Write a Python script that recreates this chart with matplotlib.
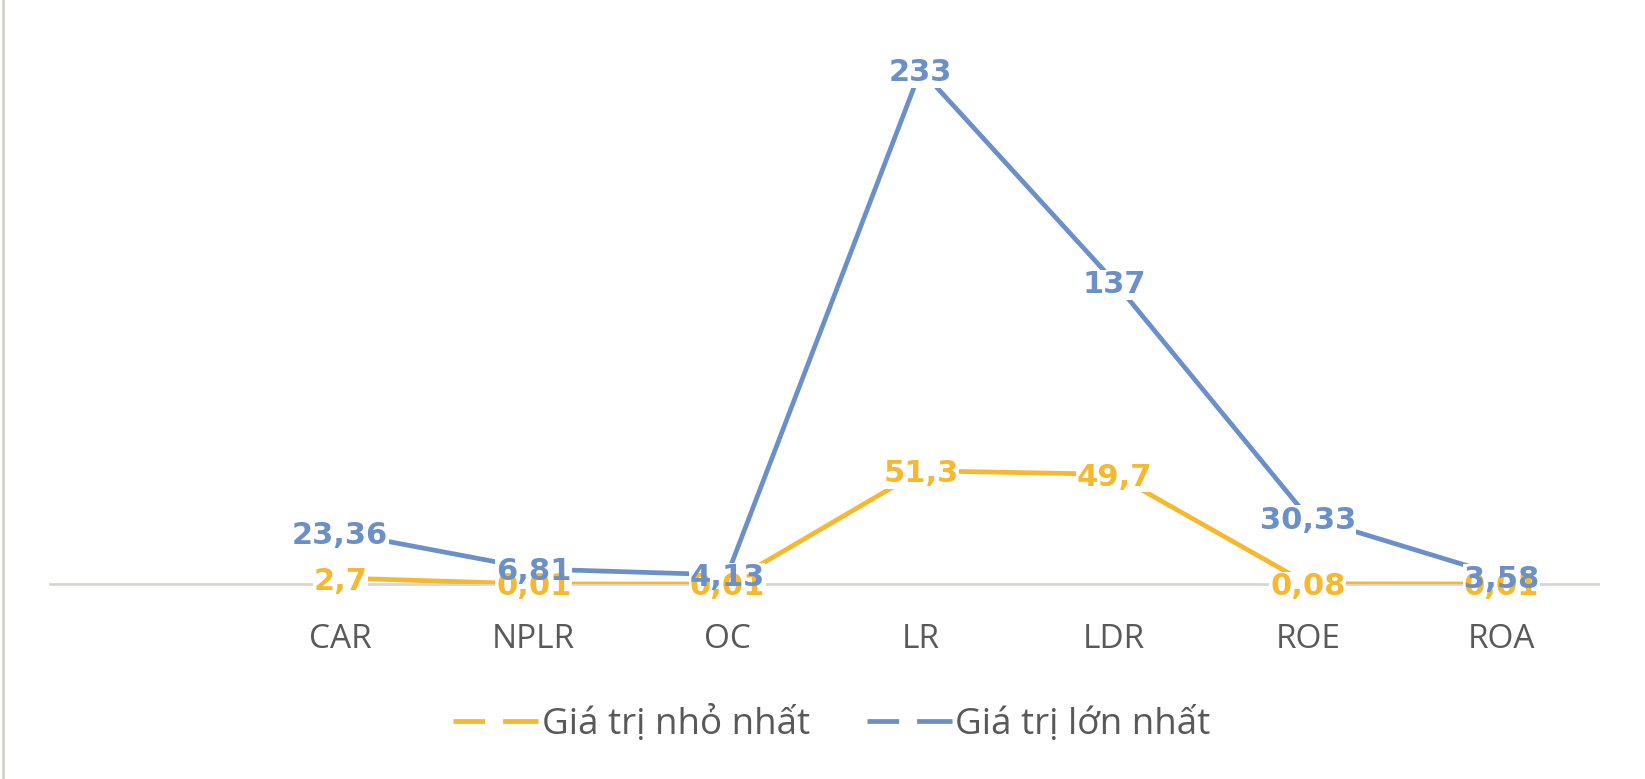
import matplotlib
matplotlib.use("Agg")
import matplotlib.pyplot as plt
from matplotlib.lines import Line2D

# chi tieu va gia tri
categories = ["CAR", "NPLR", "OC", "LR", "LDR", "ROE", "ROA"]
min_values = [2.7, 0.01, 0.01, 51.3, 49.7, 0.08, 0.01]
max_values = [23.36, 6.81, 4.13, 233, 137, 30.33, 3.58]
min_labels = ["2,7", "0,01", "0,01", "51,3", "49,7", "0,08", "0,01"]
max_labels = ["23,36", "6,81", "4,13", "233", "137", "30,33", "3,58"]
series_names = ["Giá trị nhỏ nhất", "Giá trị lớn nhất"]

ORANGE = "#F5B82E"
BLUE = "#6B8FC7"
TEXT = "#595959"
FONT = ["Open Sans", "DejaVu Sans"]

W, H = 1645, 779
fig = plt.figure(figsize=(W / 100, H / 100), dpi=100)
ax = fig.add_axes([50 / W, (H - 584) / H, 1548 / W, 544 / H])

x = list(range(len(categories)))
ax.plot(x, min_values, color=ORANGE, lw=3.4, zorder=2, solid_capstyle="butt")
ax.plot(x, max_values, color=BLUE, lw=3.4, zorder=2, solid_capstyle="butt")

# nhan du lieu: lop nen trang cat duong, sau do chu
box = dict(facecolor="white", edgecolor="none", pad=0.5)
for vals, labs, col, z in [(min_values, min_labels, ORANGE, 4),
                           (max_values, max_labels, BLUE, 5)]:
    for i in x:
        ax.text(i, vals[i], labs[i], color=(1, 1, 1, 0), fontsize=22,
                fontweight="bold", ha="center", va="center_baseline",
                bbox=box, zorder=3, family="DejaVu Sans")
        ax.text(i, vals[i], labs[i], color=col, fontsize=22,
                fontweight="bold", ha="center", va="center_baseline",
                zorder=z, family="DejaVu Sans")

ax.set_xlim(-1.5, 6.5)
ax.set_ylim(0, 246.5)
ax.set_xticks(x)
ax.set_xticklabels(categories, fontsize=24, color=TEXT, family=FONT)
ax.tick_params(axis="x", length=0, pad=28)
ax.set_yticks([])
for s in ["top", "right", "left"]:
    ax.spines[s].set_visible(False)
ax.spines["bottom"].set_color("#D9D6D2")
ax.spines["bottom"].set_linewidth(2)
ax.spines["bottom"].set_zorder(1)

# vien trai
fig.add_artist(Line2D([2.5 / W, 2.5 / W], [0, 1], color="#D3D3CB", lw=2))

dash = (0, (6.7, 3.8, 7.5, 50))
handles = [Line2D([], [], color=ORANGE, lw=3.4, linestyle=dash),
           Line2D([], [], color=BLUE, lw=3.4, linestyle=dash)]
leg = fig.legend(handles, series_names, loc="center",
                 bbox_to_anchor=(832 / W, 1 - 724 / H), ncol=2, frameon=False,
                 prop={"family": FONT, "size": 26.5},
                 handlelength=2.3, handletextpad=0.1, columnspacing=1.55)
for t in leg.get_texts():
    t.set_color(TEXT)

fig.savefig("out.png", dpi=100, facecolor="white")
